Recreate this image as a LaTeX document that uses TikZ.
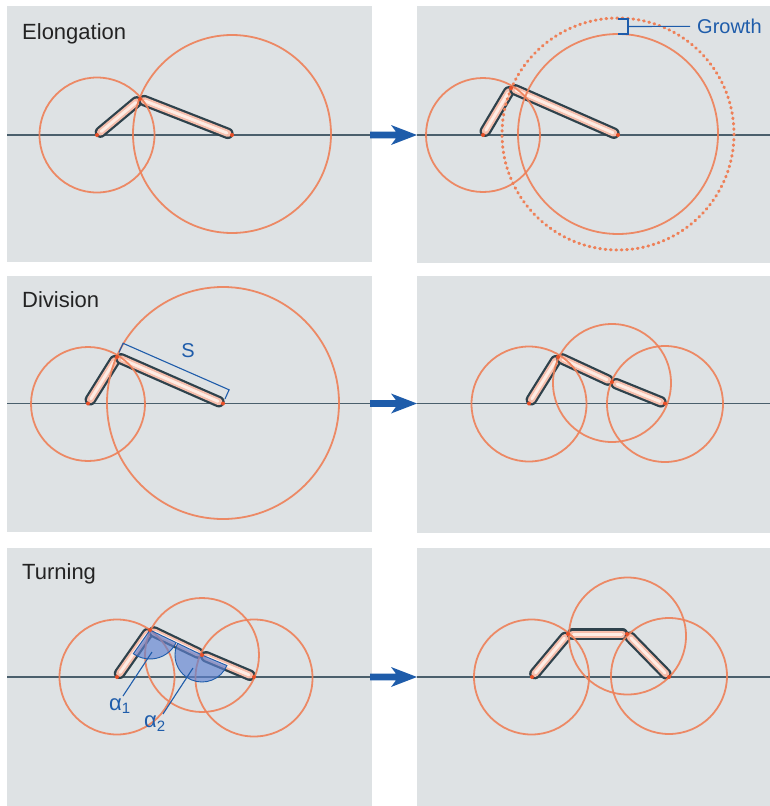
\documentclass[tikz,border=0pt]{standalone}
\usepackage{fontspec}
\setmainfont{Liberation Sans}
\usetikzlibrary{calc}
\definecolor{panel}{RGB}{222,226,228}
\definecolor{axis}{RGB}{74,95,108}
\definecolor{cellc}{RGB}{238,128,88}
\definecolor{segdark}{RGB}{46,66,76}
\definecolor{segpink}{RGB}{246,190,172}
\definecolor{segwhite}{RGB}{253,236,228}
\definecolor{dotc}{RGB}{232,80,40}
\definecolor{bluec}{RGB}{30,92,170}
\definecolor{titlec}{RGB}{35,35,35}
\definecolor{wedgec}{RGB}{95,130,210}
\tikzset{
 panelbox/.style={fill=panel, draw=none},
 axisline/.style={draw=axis, line width=1.3pt},
 cell/.style={draw=cellc, line width=1.8pt, draw opacity=0.9},
 celldots/.style={draw=cellc, line width=3pt, line cap=round, dash pattern=on 0.8pt off 4.6pt},
 segA/.style={draw=segdark, line width=11.5pt, line cap=round, shorten <=4.5pt, shorten >=4.5pt},
 segB/.style={draw=segpink, line width=7pt, line cap=round, shorten <=4.5pt, shorten >=4.5pt},
 segC/.style={draw=segwhite, line width=3pt, line cap=round, shorten <=5.5pt, shorten >=5.5pt},
 enddot/.style={fill=dotc},
 flow/.style={fill=bluec},
 title/.style={anchor=base west, inner sep=0pt, text=titlec, font=\fontsize{22}{26}\selectfont},
 bluetext/.style={inner sep=0pt, text=bluec, font=\fontsize{20}{24}\selectfont},
 greektext/.style={inner sep=0pt, text=bluec, font=\fontsize{22}{26}\selectfont},
 blueline/.style={draw=bluec, line width=1.1pt},
 wedge/.style={fill=wedgec, fill opacity=0.65, draw=bluec, line width=0.9pt},
}
\newcommand\capseg[2]{%
 \draw[segA] (#1) -- (#2);
 \draw[segB] (#1) -- (#2);
 \draw[segC] (#1) -- (#2);}
\newcommand\flowarrow[1]{%
 \begin{scope}[shift={(0,#1)}]
 \fill[flow] (370,-3.3) -- (396,-3.3) -- (391,-10) -- (417,0) -- (391,10) -- (396,3.3) -- (370,3.3) -- cycle;
 \end{scope}}
\begin{document}
\begin{tikzpicture}[x=1pt,y=-1pt]
\useasboundingbox (0,0) rectangle (770,806);
\fill[white] (0,0) rectangle (770,806);
% panels
\fill[panelbox] (7,6) rectangle (372,262);
\fill[panelbox] (417,6) rectangle (770,263);
\fill[panelbox] (7,276) rectangle (372,532);
\fill[panelbox] (417,276) rectangle (770,533);
\fill[panelbox] (7,548) rectangle (372,806);
\fill[panelbox] (417,548) rectangle (770,806);
% axis lines
\draw[axisline] (7,135) -- (372,135);
\draw[axisline] (417,135) -- (770,135);
\draw[axisline] (7,403.5) -- (372,403.5);
\draw[axisline] (417,403.5) -- (770,403.5);
\draw[axisline] (7,677) -- (372,677);
\draw[axisline] (417,677) -- (770,677);
% arrows
\flowarrow{135}
\flowarrow{403.5}
\flowarrow{677}
% titles
\node[title] (t1) at (22,39) {Elongation};
\node[title] (t2) at (22,307) {Division};
\node[title] (t3) at (22,579) {Turning};

% ---------- Row 1 left
\coordinate (aE0) at (97,135);
\coordinate (aJ1) at (140,99);
\coordinate (aE) at (232,135);
\capseg{aE0}{aJ1}
\capseg{aJ1}{aE}
\draw[cell] (97,135) circle[radius=57.5];
\draw[cell] (232,134) circle[radius=99];
\foreach \p in {aE0,aJ1,aE} \fill[enddot] (\p) circle[radius=2];

% ---------- Row 1 right
\coordinate (bE0) at (483,135);
\coordinate (bJ1) at (511,88);
\coordinate (bE) at (618,135);
\capseg{bE0}{bJ1}
\capseg{bJ1}{bE}
\draw[cell] (483,135) circle[radius=57];
\draw[cell] (618,134) circle[radius=100];
\draw[celldots] (618,134) circle[radius=116];
\foreach \p in {bE0,bJ1,bE} \fill[enddot] (\p) circle[radius=2];
\coordinate (g1) at (618,19);
\coordinate (g2) at (628,19);
\coordinate (g3) at (628,34);
\coordinate (g4) at (618,34);
\coordinate (gm) at (628,26.5);
\draw[blueline] (g1) -- (g2) -- (g3) -- (g4);
\node[bluetext, anchor=base west] (growth) at (697,33.5) {Growth};
\draw[blueline, shorten >=7pt] (gm) -- (growth.west);

% ---------- Row 2 left
\coordinate (cE0) at (88,403.5);
\coordinate (cJ1) at (117,357);
\coordinate (cE) at (223,403.5);
\capseg{cE0}{cJ1}
\capseg{cJ1}{cE}
\draw[cell] (88,404) circle[radius=57];
\draw[cell] (223,403) circle[radius=116];
\foreach \p in {cE0,cJ1,cE} \fill[enddot] (\p) circle[radius=2];
\coordinate (s1) at (119,352.4);
\coordinate (s2) at (123.1,343.3);
\coordinate (s3) at (229.1,389.8);
\coordinate (s4) at (225,398.9);
\draw[blueline] (s1) -- (s2) -- (s3) -- (s4);
\node[bluetext] (slab) at (188,351) {S};

% ---------- Row 2 right
\coordinate (dE0) at (529,403.5);
\coordinate (dJ1) at (558,357);
\coordinate (dJ2) at (612,382);
\coordinate (dE) at (665,403.5);
\capseg{dE0}{dJ1}
\capseg{dJ1}{dJ2}
\capseg{dJ2}{dE}
\draw[cell] (529,404) circle[radius=57.5];
\draw[cell] (612,383) circle[radius=59];
\draw[cell] (665,404) circle[radius=58];
\foreach \p in {dE0,dJ1,dJ2,dE} \fill[enddot] (\p) circle[radius=2];

% ---------- Row 3 left
\coordinate (eE0) at (117,677);
\coordinate (eJ1) at (150,630);
\coordinate (eJ2) at (202,655);
\coordinate (eE) at (254,677);
\capseg{eE0}{eJ1}
\capseg{eJ1}{eJ2}
\capseg{eJ2}{eE}
\draw[cell] (117,677) circle[radius=57.5];
\draw[cell] (202,655) circle[radius=57];
\draw[cell] (254,678) circle[radius=58.5];
\draw[wedge] (eJ1) -- ++(25.67:29) arc[start angle=25.67, end angle=125.07, radius=29] -- cycle;
\draw[wedge] (eJ2) -- ++(22.93:27) arc[start angle=22.93, end angle=205.67, radius=27] -- cycle;
\foreach \p in {eE0,eJ1,eJ2,eE} \fill[enddot] (\p) circle[radius=2];
\node[greektext, anchor=base west] (a1) at (109,710) {α\raisebox{-3.5pt}{\fontsize{15}{15}\selectfont 1}};
\node[greektext, anchor=base west] (a2) at (144,727) {α\raisebox{-4.5pt}{\fontsize{15}{15}\selectfont 2}};
\coordinate (l1a) at (123,696);
\coordinate (l1b) at (152,652);
\coordinate (l2a) at (163,714);
\coordinate (l2b) at (193,668);
\draw[blueline] (l1a) -- (l1b);
\draw[blueline] (l2a) -- (l2b);

% ---------- Row 3 right
\coordinate (fE0) at (532,677);
\coordinate (fJ1) at (568,634);
\coordinate (fJ2) at (627,634);
\coordinate (fE) at (669,677);
\capseg{fE0}{fJ1}
\capseg{fJ1}{fJ2}
\capseg{fJ2}{fE}
\draw[cell] (531.5,677) circle[radius=57.5];
\draw[cell] (627.5,636) circle[radius=58.5];
\draw[cell] (669,676) circle[radius=58];
\foreach \p in {fE0,fJ1,fJ2,fE} \fill[enddot] (\p) circle[radius=2];
\end{tikzpicture}
\end{document}
